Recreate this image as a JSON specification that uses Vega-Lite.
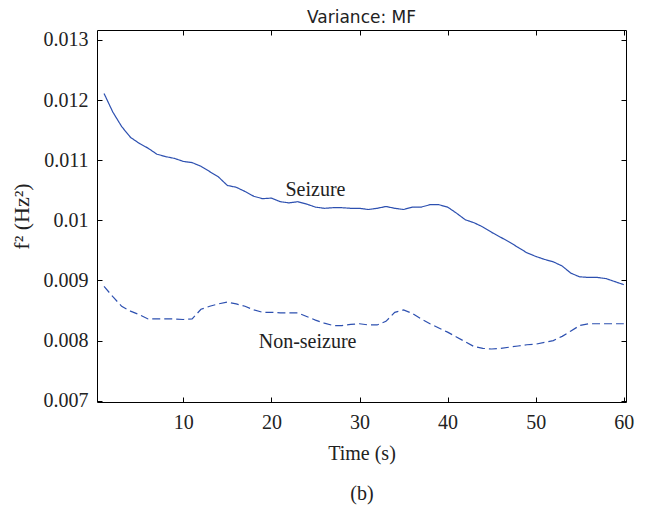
{
  "$schema": "https://vega.github.io/schema/vega-lite/v6.json",
  "width": 529,
  "height": 372,
  "autosize": {"type": "none"},
  "padding": {"left": 97, "top": 30, "right": 24, "bottom": 104},
  "background": "white",
  "config": {
    "view": {"stroke": "black", "strokeWidth": 1},
    "font": "Liberation Serif"
  },
  "title": {
    "text": "Variance: MF",
    "font": "DejaVu Sans",
    "fontSize": 17,
    "fontWeight": "normal",
    "color": "#222",
    "offset": 3,
    "anchor": "middle"
  },
  "datasets": {
    "curves": [
      {"t":1,"v":0.01211,"s":"Seizure"},{"t":2,"v":0.01180,"s":"Seizure"},{"t":3,"v":0.01156,"s":"Seizure"},{"t":4,"v":0.01138,"s":"Seizure"},{"t":5,"v":0.01128,"s":"Seizure"},
      {"t":6,"v":0.01120,"s":"Seizure"},{"t":7,"v":0.01110,"s":"Seizure"},{"t":8,"v":0.01106,"s":"Seizure"},{"t":9,"v":0.01103,"s":"Seizure"},{"t":10,"v":0.01098,"s":"Seizure"},
      {"t":11,"v":0.01096,"s":"Seizure"},{"t":12,"v":0.01090,"s":"Seizure"},{"t":13,"v":0.01081,"s":"Seizure"},{"t":14,"v":0.01072,"s":"Seizure"},{"t":15,"v":0.01058,"s":"Seizure"},
      {"t":16,"v":0.01055,"s":"Seizure"},{"t":17,"v":0.01048,"s":"Seizure"},{"t":18,"v":0.01040,"s":"Seizure"},{"t":19,"v":0.01036,"s":"Seizure"},{"t":20,"v":0.01037,"s":"Seizure"},
      {"t":21,"v":0.01031,"s":"Seizure"},{"t":22,"v":0.01029,"s":"Seizure"},{"t":23,"v":0.01031,"s":"Seizure"},{"t":24,"v":0.01027,"s":"Seizure"},{"t":25,"v":0.01022,"s":"Seizure"},
      {"t":26,"v":0.01020,"s":"Seizure"},{"t":27,"v":0.01021,"s":"Seizure"},{"t":28,"v":0.01021,"s":"Seizure"},{"t":29,"v":0.01020,"s":"Seizure"},{"t":30,"v":0.01020,"s":"Seizure"},
      {"t":31,"v":0.01018,"s":"Seizure"},{"t":32,"v":0.01020,"s":"Seizure"},{"t":33,"v":0.01023,"s":"Seizure"},{"t":34,"v":0.01020,"s":"Seizure"},{"t":35,"v":0.01018,"s":"Seizure"},
      {"t":36,"v":0.01022,"s":"Seizure"},{"t":37,"v":0.01022,"s":"Seizure"},{"t":38,"v":0.01026,"s":"Seizure"},{"t":39,"v":0.01026,"s":"Seizure"},{"t":40,"v":0.01022,"s":"Seizure"},
      {"t":41,"v":0.01012,"s":"Seizure"},{"t":42,"v":0.01001,"s":"Seizure"},{"t":43,"v":0.00996,"s":"Seizure"},{"t":44,"v":0.00989,"s":"Seizure"},{"t":45,"v":0.00980,"s":"Seizure"},
      {"t":46,"v":0.00972,"s":"Seizure"},{"t":47,"v":0.00964,"s":"Seizure"},{"t":48,"v":0.00955,"s":"Seizure"},{"t":49,"v":0.00946,"s":"Seizure"},{"t":50,"v":0.00940,"s":"Seizure"},
      {"t":51,"v":0.00935,"s":"Seizure"},{"t":52,"v":0.00931,"s":"Seizure"},{"t":53,"v":0.00924,"s":"Seizure"},{"t":54,"v":0.00912,"s":"Seizure"},{"t":55,"v":0.00906,"s":"Seizure"},
      {"t":56,"v":0.00905,"s":"Seizure"},{"t":57,"v":0.00905,"s":"Seizure"},{"t":58,"v":0.00903,"s":"Seizure"},{"t":59,"v":0.00898,"s":"Seizure"},{"t":60,"v":0.00893,"s":"Seizure"},
      {"t":1,"v":0.00890,"s":"Non-seizure"},{"t":2,"v":0.00873,"s":"Non-seizure"},{"t":3,"v":0.00857,"s":"Non-seizure"},{"t":4,"v":0.00849,"s":"Non-seizure"},{"t":5,"v":0.00843,"s":"Non-seizure"},
      {"t":6,"v":0.00836,"s":"Non-seizure"},{"t":7,"v":0.00836,"s":"Non-seizure"},{"t":8,"v":0.00836,"s":"Non-seizure"},{"t":9,"v":0.00836,"s":"Non-seizure"},{"t":10,"v":0.00835,"s":"Non-seizure"},
      {"t":11,"v":0.00836,"s":"Non-seizure"},{"t":12,"v":0.00852,"s":"Non-seizure"},{"t":13,"v":0.00857,"s":"Non-seizure"},{"t":14,"v":0.00861,"s":"Non-seizure"},{"t":15,"v":0.00864,"s":"Non-seizure"},
      {"t":16,"v":0.00861,"s":"Non-seizure"},{"t":17,"v":0.00857,"s":"Non-seizure"},{"t":18,"v":0.00851,"s":"Non-seizure"},{"t":19,"v":0.00847,"s":"Non-seizure"},{"t":20,"v":0.00847,"s":"Non-seizure"},
      {"t":21,"v":0.00846,"s":"Non-seizure"},{"t":22,"v":0.00846,"s":"Non-seizure"},{"t":23,"v":0.00846,"s":"Non-seizure"},{"t":24,"v":0.00840,"s":"Non-seizure"},{"t":25,"v":0.00834,"s":"Non-seizure"},
      {"t":26,"v":0.00829,"s":"Non-seizure"},{"t":27,"v":0.00825,"s":"Non-seizure"},{"t":28,"v":0.00825,"s":"Non-seizure"},{"t":29,"v":0.00827,"s":"Non-seizure"},{"t":30,"v":0.00828,"s":"Non-seizure"},
      {"t":31,"v":0.00826,"s":"Non-seizure"},{"t":32,"v":0.00826,"s":"Non-seizure"},{"t":33,"v":0.00832,"s":"Non-seizure"},{"t":34,"v":0.00847,"s":"Non-seizure"},{"t":35,"v":0.00851,"s":"Non-seizure"},
      {"t":36,"v":0.00845,"s":"Non-seizure"},{"t":37,"v":0.00836,"s":"Non-seizure"},{"t":38,"v":0.00828,"s":"Non-seizure"},{"t":39,"v":0.00821,"s":"Non-seizure"},{"t":40,"v":0.00814,"s":"Non-seizure"},
      {"t":41,"v":0.00806,"s":"Non-seizure"},{"t":42,"v":0.00798,"s":"Non-seizure"},{"t":43,"v":0.00790,"s":"Non-seizure"},{"t":44,"v":0.00787,"s":"Non-seizure"},{"t":45,"v":0.00786,"s":"Non-seizure"},
      {"t":46,"v":0.00787,"s":"Non-seizure"},{"t":47,"v":0.00789,"s":"Non-seizure"},{"t":48,"v":0.00791,"s":"Non-seizure"},{"t":49,"v":0.00793,"s":"Non-seizure"},{"t":50,"v":0.00794,"s":"Non-seizure"},
      {"t":51,"v":0.00797,"s":"Non-seizure"},{"t":52,"v":0.00800,"s":"Non-seizure"},{"t":53,"v":0.00807,"s":"Non-seizure"},{"t":54,"v":0.00816,"s":"Non-seizure"},{"t":55,"v":0.00825,"s":"Non-seizure"},
      {"t":56,"v":0.00828,"s":"Non-seizure"},{"t":57,"v":0.00828,"s":"Non-seizure"},{"t":58,"v":0.00828,"s":"Non-seizure"},{"t":59,"v":0.00828,"s":"Non-seizure"},{"t":60,"v":0.00828,"s":"Non-seizure"}
    ],
    "labels": [
      {"t":25.0,"v":0.01051,"label":"Seizure"},
      {"t":24.1,"v":0.00798,"label":"Non-seizure"}
    ]
  },
  "layer": [
    {
      "data": {"name": "curves"},
      "mark": {"type": "line", "strokeWidth": 1.2, "color": "#2d50b0", "clip": true},
      "encoding": {
        "x": {
          "field": "t", "type": "quantitative",
          "scale": {"domain": [0.2, 60.25], "nice": false, "zero": false},
          "axis": {
            "orient": "bottom",
            "values": [10, 20, 30, 40, 50, 60],
            "tickSize": -5, "tickColor": "black", "tickWidth": 1,
            "domain": false, "grid": false,
            "labelFont": "Liberation Serif", "labelFontSize": 20, "labelColor": "#222",
            "labelPadding": 15, "labelFlush": false,
            "title": ["Time (s)", "(b)"],
            "titleFont": "Liberation Serif", "titleFontSize": 20, "titleFontWeight": "normal",
            "titleColor": "#222", "titleLineHeight": 40, "titlePadding": 11
          }
        },
        "y": {
          "field": "v", "type": "quantitative",
          "scale": {"domain": [0.006978, 0.013166], "nice": false, "zero": false},
          "axis": {
            "orient": "left",
            "values": [0.007, 0.008, 0.009, 0.01, 0.011, 0.012, 0.013],
            "format": ".3~f",
            "tickSize": -5, "tickColor": "black", "tickWidth": 1,
            "domain": false, "grid": false,
            "labelFont": "Liberation Serif", "labelFontSize": 20, "labelColor": "#222",
            "labelPadding": 14,
            "title": "f² (Hz²)",
            "titleFont": "Liberation Serif", "titleFontSize": 22, "titleFontWeight": "normal",
            "titleColor": "#222", "titlePadding": 10
          }
        },
        "strokeDash": {
          "field": "s", "type": "nominal",
          "scale": {"domain": ["Seizure", "Non-seizure"], "range": [[1, 0], [8, 4]]},
          "legend": null
        },
        "detail": {"field": "s"}
      }
    },
    {
      "data": {"name": "labels"},
      "mark": {"type": "text", "font": "Liberation Serif", "fontSize": 20, "color": "#222", "align": "center", "baseline": "middle"},
      "encoding": {
        "x": {
          "field": "t", "type": "quantitative",
          "axis": {"orient": "top", "values": [10, 20, 30, 40, 50, 60], "labels": false, "title": null, "tickSize": -5, "tickColor": "black", "domain": false, "grid": false}
        },
        "y": {
          "field": "v", "type": "quantitative",
          "axis": {"orient": "right", "values": [0.007, 0.008, 0.009, 0.01, 0.011, 0.012, 0.013], "labels": false, "title": null, "tickSize": -5, "tickColor": "black", "domain": false, "grid": false}
        },
        "text": {"field": "label"}
      }
    }
  ],
  "resolve": {"axis": {"x": "independent", "y": "independent"}}
}
